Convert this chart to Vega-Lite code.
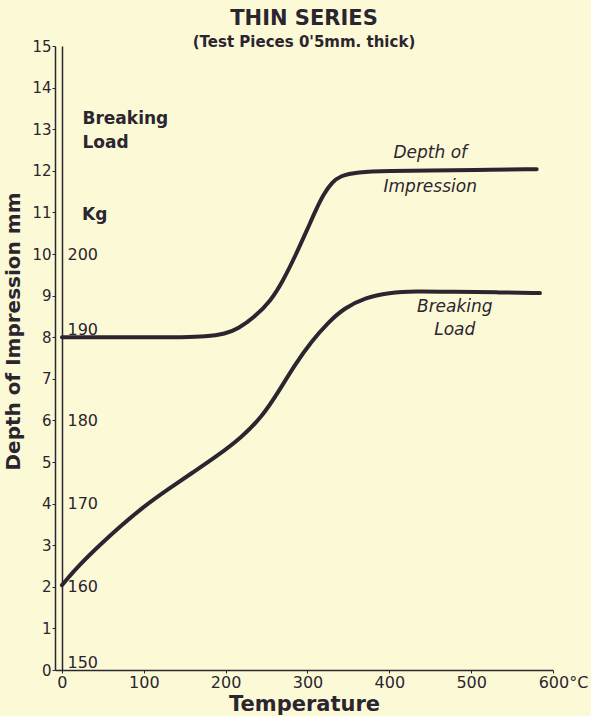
{
  "$schema": "https://vega.github.io/schema/vega-lite/v6.json",
  "width": 498,
  "height": 624,
  "autosize": {"type": "none"},
  "padding": {"left": 55, "top": 46, "right": 38, "bottom": 46},
  "background": "#fcfad6",
  "title": {
    "text": "THIN SERIES",
    "subtitle": "(Test Pieces 0'5mm. thick)",
    "anchor": "middle",
    "font": "DejaVu Sans",
    "fontSize": 21,
    "fontWeight": "bold",
    "color": "#2b2530",
    "subtitleFont": "DejaVu Sans",
    "subtitleFontSize": 15,
    "subtitleFontWeight": "bold",
    "subtitleColor": "#2b2530",
    "subtitlePadding": 6,
    "offset": -11
  },
  "datasets": {
    "depth": [
      {"t": 0, "mm": 8.0}, {"t": 50, "mm": 8.0}, {"t": 100, "mm": 8.0}, {"t": 150, "mm": 8.0},
      {"t": 175, "mm": 8.01}, {"t": 200, "mm": 8.08}, {"t": 215, "mm": 8.2}, {"t": 235, "mm": 8.48},
      {"t": 255, "mm": 8.87}, {"t": 270, "mm": 9.35}, {"t": 285, "mm": 9.95}, {"t": 300, "mm": 10.6},
      {"t": 310, "mm": 11.05}, {"t": 320, "mm": 11.45}, {"t": 330, "mm": 11.72}, {"t": 340, "mm": 11.88},
      {"t": 360, "mm": 11.97}, {"t": 400, "mm": 12.0}, {"t": 450, "mm": 12.01}, {"t": 500, "mm": 12.02},
      {"t": 580, "mm": 12.04}
    ],
    "load": [
      {"t": 0, "kg": 160.2}, {"t": 20, "kg": 162.5}, {"t": 46, "kg": 165.0}, {"t": 71, "kg": 167.25},
      {"t": 100, "kg": 169.65}, {"t": 130, "kg": 171.75}, {"t": 160, "kg": 173.75}, {"t": 190, "kg": 175.75},
      {"t": 220, "kg": 178.0}, {"t": 245, "kg": 180.5}, {"t": 265, "kg": 183.5}, {"t": 285, "kg": 186.75},
      {"t": 305, "kg": 189.5}, {"t": 325, "kg": 191.75}, {"t": 345, "kg": 193.5}, {"t": 370, "kg": 194.75},
      {"t": 400, "kg": 195.35}, {"t": 430, "kg": 195.55}, {"t": 480, "kg": 195.45}, {"t": 530, "kg": 195.4},
      {"t": 584, "kg": 195.3}
    ]
  },
  "encoding": {
    "x": {
      "field": "t",
      "type": "quantitative",
      "scale": {"domain": [-8.5, 600], "nice": false, "zero": false},
      "axis": {
        "title": "Temperature",
        "values": [0, 100, 200, 300, 400, 500, 600],
        "labelExpr": "datum.value == 600 ? '600°C' : datum.label",
        "labelOffset": {"condition": {"test": "datum.value == 600", "value": 10}, "value": 0},
        "labelFlush": false,
        "labelFont": "DejaVu Sans",
        "labelFontSize": 16,
        "labelColor": "#2b2530",
        "labelPadding": 1,
        "tickSize": 3,
        "tickColor": "#2b2530",
        "domainColor": "#2b2530",
        "domainWidth": 1.5,
        "grid": false,
        "titleFont": "DejaVu Sans",
        "titleFontSize": 21,
        "titleFontWeight": "bold",
        "titleColor": "#2b2530",
        "titlePadding": 3
      }
    }
  },
  "layer": [
    {
      "data": {"name": "depth"},
      "encoding": {
        "y": {
          "field": "mm",
          "type": "quantitative",
          "scale": {"domain": [0, 15], "nice": false},
          "axis": {
            "title": "Depth of Impression mm",
            "orient": "left",
            "values": [0, 1, 2, 3, 4, 5, 6, 7, 8, 9, 10, 11, 12, 13, 14, 15],
            "labelFont": "DejaVu Sans",
            "labelFontSize": 15,
            "labelColor": "#2b2530",
            "labelPadding": 1,
            "tickSize": 3,
            "tickColor": "#2b2530",
            "domainColor": "#2b2530",
            "domainWidth": 1.5,
            "grid": false,
            "titleFont": "DejaVu Sans",
            "titleFontSize": 20,
            "titleFontWeight": "bold",
            "titleColor": "#2b2530",
            "titleY": 285,
            "titlePadding": 8
          }
        }
      },
      "layer": [
        {"mark": {"type": "line", "interpolate": "basis", "color": "#2b2530", "strokeWidth": 4, "strokeCap": "round"}},
        {
          "transform": [{"filter": "datum.t == 450"}],
          "mark": {"type": "text", "text": ["Depth of", "Impression"], "font": "DejaVu Sans", "fontSize": 17, "fontStyle": "italic", "color": "#2b2530", "baseline": "middle", "align": "center", "lineHeight": 34, "dy": -17}
        }
      ]
    },
    {
      "data": {"name": "load"},
      "encoding": {
        "y": {
          "field": "kg",
          "type": "quantitative",
          "scale": {"domain": [150, 225], "nice": false, "zero": false},
          "axis": {
            "title": ["Breaking", "Load"],
            "orient": "right",
            "offset": -491,
            "values": [150, 160, 170, 180, 190, 200],
            "ticks": false,
            "labelFont": "DejaVu Sans",
            "labelFontSize": 16,
            "labelColor": "#2b2530",
            "labelPadding": 5,
            "labelBaseline": {"condition": {"test": "datum.value == 150 || datum.value == 190", "value": "bottom"}, "value": "middle"},
            "domainColor": "#2b2530",
            "domainWidth": 1.5,
            "grid": false,
            "titleFont": "DejaVu Sans",
            "titleFontSize": 17,
            "titleFontWeight": "bold",
            "titleColor": "#2b2530",
            "titleAngle": 0,
            "titleAlign": "left",
            "titleBaseline": "top",
            "titleX": 20,
            "titleY": 64,
            "titleLineHeight": 24.3
          }
        }
      },
      "layer": [
        {"mark": {"type": "line", "interpolate": "basis", "color": "#2b2530", "strokeWidth": 4, "strokeCap": "round"}},
        {
          "transform": [{"filter": "datum.t == 480"}],
          "mark": {"type": "text", "text": ["Breaking", "Load"], "font": "DejaVu Sans", "fontSize": 17, "fontStyle": "italic", "color": "#2b2530", "baseline": "middle", "align": "center", "lineHeight": 23, "dy": 15}
        },
        {
          "transform": [{"filter": "datum.t == 0"}],
          "encoding": {"x": {"datum": 0}, "y": {"datum": 204.7}},
          "mark": {"type": "text", "text": "Kg", "font": "DejaVu Sans", "fontSize": 17, "fontWeight": "bold", "color": "#2b2530", "baseline": "middle", "align": "left", "dx": 20}
        }
      ]
    }
  ],
  "resolve": {"scale": {"y": "independent"}},
  "config": {"view": {"stroke": null}}
}
